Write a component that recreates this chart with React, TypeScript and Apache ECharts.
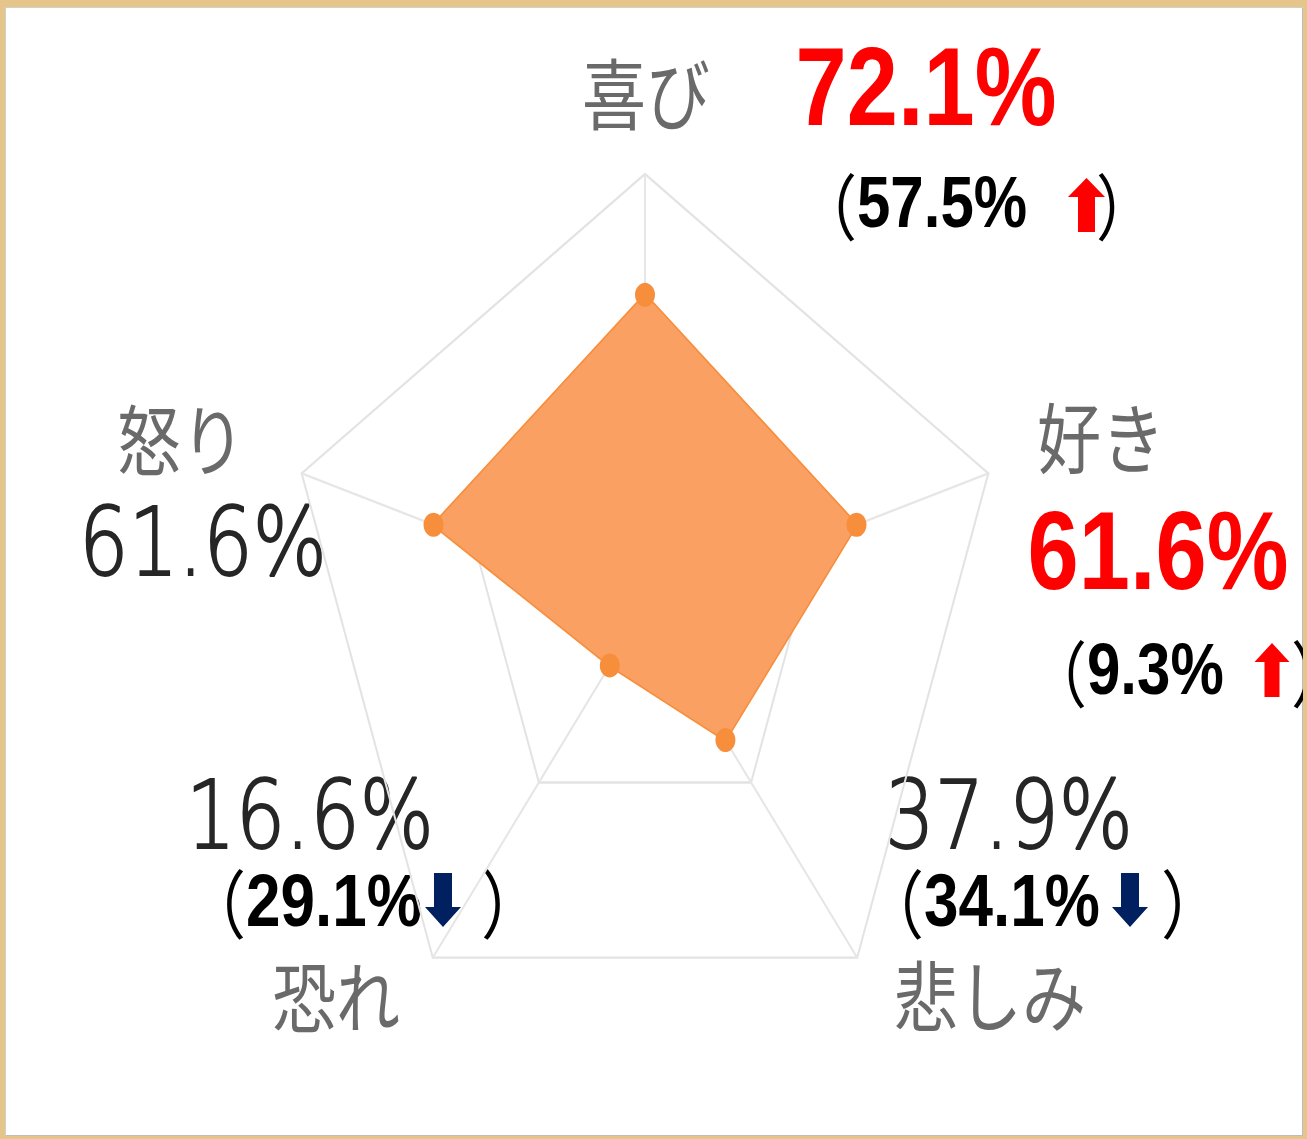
import React, { useEffect, useRef } from "react";
import * as echarts from "echarts";

// ---- data ----
const categories = ["喜び", "好き", "悲しみ", "恐れ", "怒り"];
const values = [72.1, 61.6, 37.9, 16.6, 61.6];
const previous = ["57.5%", "9.3%", "34.1%", "29.1%", ""];
const direction = ["up", "up", "down", "down", ""];
const highlighted = [true, true, false, false, false];
const maxValue = 100;

// ECharts places radar indicators counter-clockwise from the top
const radarOrder = [0, 4, 3, 2, 1];

// ---- layout (image px; y is divided by SY for the stretched chart) ----
const SY = 1.2;
const layout = [
  { name: [646, 90], value: [926, 87], paren: [797, 202], arrow: [1086.5, 178, 197, 232, 18.5, 8.5], close: [1096, 202], pSize: 60 },
  { name: [1101, 434], value: [1158, 551], paren: [1027, 669], arrow: [1272, 643, 662, 697, 17.5, 7.5], close: [1291, 669], pSize: 60 },
  { name: [990, 992], value: [1009, 815], paren: [862, 900], arrow: [1130, 873, 907, 927, 18, 9], close: [1161, 900], pSize: 62 },
  { name: [336, 993], value: [310, 815], paren: [184, 900], arrow: [443, 873, 907, 927, 18, 9], close: [481, 900], pSize: 62 },
  { name: [181, 436], value: [203, 542], paren: null, arrow: null, close: null, pSize: 60 },
];

const Y = (v: number) => v / SY;

function buildGraphic() {
  const els: any[] = [];
  categories.forEach((cat, i) => {
    const L = layout[i];
    els.push({
      type: "text",
      x: L.name[0],
      y: Y(L.name[1]),
      style: {
        text: cat,
        fill: "#6a6a6a",
        fontSize: 64,
        fontFamily: "Noto Sans CJK JP",
        lineHeight: 60,
        align: "center",
        verticalAlign: "middle",
      },
    });
    els.push({
      type: "text",
      x: L.value[0],
      y: Y(L.value[1]),
      style: highlighted[i]
        ? {
            text: values[i].toFixed(1) + "%",
            fill: "#FF0000",
            fontSize: 92,
            fontWeight: "bold",
            fontFamily: "Liberation Sans",
            lineHeight: 66,
            align: "center",
            verticalAlign: "middle",
          }
        : {
            text: values[i].toFixed(1) + "%",
            fill: "#262626",
            stroke: "#262626",
            lineWidth: 1.6,
            fontSize: 78,
            fontWeight: 200,
            fontFamily: "DejaVu Sans",
            lineHeight: 58,
            align: "center",
            verticalAlign: "middle",
          },
    });
    if (L.paren && previous[i]) {
      els.push({
        type: "text",
        x: L.paren[0],
        y: Y(L.paren[1]),
        style: {
          text: "{p|（}{b|" + previous[i] + "}",
          align: "left",
          verticalAlign: "middle",
          rich: {
            p: {
              fontSize: L.pSize,
              fontFamily: "Noto Sans CJK JP",
              fontWeight: "normal",
              fill: "#000",
              lineHeight: 46,
            },
            b: {
              fontSize: L.pSize,
              fontFamily: "Liberation Sans",
              fontWeight: "bold",
              fill: "#000",
              lineHeight: 46,
            },
          },
        },
      });
      els.push({
        type: "text",
        x: L.close![0],
        y: Y(L.close![1]),
        style: {
          text: "）",
          fill: "#000",
          fontSize: L.pSize,
          fontFamily: "Noto Sans CJK JP",
          lineHeight: 46,
          align: "left",
          verticalAlign: "middle",
        },
      });
      const [cx, a, b, c, hh, sh] = L.arrow!;
      let pts: number[][];
      if (direction[i] === "up") {
        pts = [
          [cx, a], [cx + hh, b], [cx + sh, b], [cx + sh, c],
          [cx - sh, c], [cx - sh, b], [cx - hh, b],
        ];
      } else {
        pts = [
          [cx - sh, a], [cx + sh, a], [cx + sh, b], [cx + hh, b],
          [cx, c], [cx - hh, b], [cx - sh, b],
        ];
      }
      els.push({
        type: "polygon",
        shape: { points: pts.map((p) => [p[0], Y(p[1])]) },
        style: { fill: direction[i] === "up" ? "#FF0000" : "#002060" },
      });
    }
  });
  return els;
}

export default function App() {
  const ref = useRef<HTMLDivElement>(null);
  useEffect(() => {
    if (!ref.current) return;
    const chart = echarts.init(ref.current, null, { renderer: "svg" });
    chart.setOption({
      animation: false,
      backgroundColor: "transparent",
      radar: {
        center: [645, 506],
        radius: 361,
        shape: "polygon",
        splitNumber: 2,
        indicator: radarOrder.map((i) => ({ name: categories[i], max: maxValue, min: 0 })),
        axisName: { show: false },
        axisLine: { lineStyle: { color: "#e6e6e6", width: 2 } },
        splitLine: { lineStyle: { color: "#e3e3e3", width: 2 } },
        splitArea: { show: false },
      },
      series: [
        {
          type: "radar",
          symbol: "circle",
          symbolSize: 20,
          itemStyle: { color: "#F78E3C" },
          lineStyle: { color: "#F78E3C", width: 3 },
          areaStyle: { color: "#F9A062", opacity: 1 },
          data: [{ value: radarOrder.map((i) => values[i]), name: "感情" }],
        },
      ],
      graphic: buildGraphic(),
    });
    return () => chart.dispose();
  }, []);

  return (
    <div
      style={{
        position: "fixed",
        left: 0,
        top: 0,
        width: 1307,
        height: 1139,
        background: "#E6C58A",
        overflow: "hidden",
      }}
    >
      <div
        style={{
          position: "absolute",
          left: 5,
          top: 7,
          width: 1298,
          height: 1129,
          background: "#ffffff",
          boxShadow: "inset 1px 1px 0 #d0d0d0, inset -1px -1px 0 #bdbdbd",
          overflow: "hidden",
        }}
      >
        <div
          ref={ref}
          style={{
            position: "absolute",
            left: -5,
            top: -7,
            width: 1307,
            height: 1139 / SY,
            transform: `scaleY(${SY})`,
            transformOrigin: "0 0",
          }}
        />
      </div>
    </div>
  );
}
